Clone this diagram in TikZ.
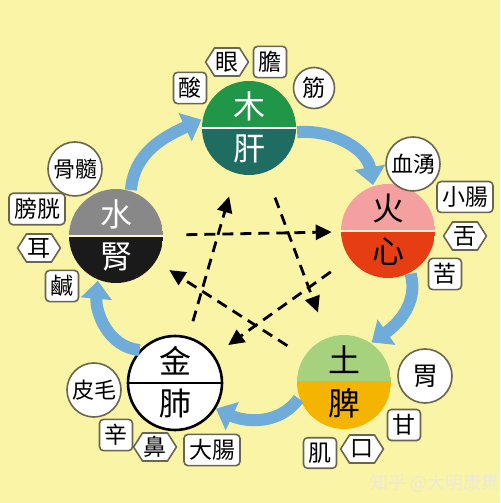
\documentclass[tikz,border=0pt]{standalone}
\usepackage{fontspec}
\setmainfont{Noto Sans CJK TC}
\usetikzlibrary{arrows.meta,shapes.symbols}
\definecolor{paper}{RGB}{250,244,166}
\definecolor{rim}{RGB}{105,102,80}
\definecolor{flow}{RGB}{112,172,218}
\definecolor{woodA}{RGB}{32,150,72}
\definecolor{woodB}{RGB}{30,108,98}
\definecolor{fireA}{RGB}{245,160,160}
\definecolor{fireB}{RGB}{230,62,18}
\definecolor{waterA}{RGB}{136,136,136}
\definecolor{waterB}{RGB}{26,26,26}
\definecolor{earthA}{RGB}{166,210,126}
\definecolor{earthB}{RGB}{245,180,0}
\definecolor{lightline}{RGB}{255,244,205}
\definecolor{markgray}{RGB}{236,233,214}
\begin{document}
\begin{tikzpicture}[x=0.5pt, y=0.5pt, line join=round]
	\tikzstyle{element}  = [circle, minimum size=47pt, inner sep=0pt]
	\tikzstyle{elemtext} = [inner sep=0pt, font=\fontsize{16}{16}\selectfont]
	\tikzstyle{boxA}     = [rectangle, rounded corners=2pt, draw=rim, fill=white, line width=0.8pt, inner sep=2.5pt, minimum height=14.5pt, minimum width=16pt, font=\fontsize{11.5}{11.5}\selectfont]
	\tikzstyle{boxB}     = [signal, signal to=west and east, signal pointer angle=115, draw=rim, fill=white, line width=0.8pt, inner xsep=0.5pt, inner ysep=1.5pt, minimum height=14pt, font=\fontsize{11.5}{11.5}\selectfont]
	\tikzstyle{boxC}     = [circle, draw=rim, fill=white, line width=0.8pt, inner sep=0pt, minimum size=27pt, font=\fontsize{11}{11}\selectfont]
	\tikzstyle{boxD}     = [boxC, minimum size=20.5pt, font=\fontsize{11.5}{11.5}\selectfont]
	\tikzstyle{boxE}     = [boxC, font=\fontsize{13}{13}\selectfont]
	\tikzstyle{ctrl}     = [-{Triangle[length=8pt,width=7.5pt]}, line width=1.4pt, dash pattern=on 5.5pt off 3.5pt]
	\tikzstyle{gen}      = [-{Triangle[length=9pt,width=15pt]}, line width=6pt, draw=flow]

	\path[fill=paper, use as bounding box] (0,0) rectangle (500,503);

%	\draw[step=50, gray!50] (0,0) grid (500,503);

	% the five phases
	\foreach \name/\x/\y/\colA/\colB/\colL/\colT/\colO/\elem/\organ in {wood/249/375/woodA/woodB/white/white/none/木/肝, fire/388/272/fireA/fireB/lightline/black/none/火/心, earth/344/121/earthA/earthB/earthB/black/none/土/脾, metal/175/120/white/white/black/black/black/金/肺, water/116/267/waterA/waterB/lightline/white/none/水/腎}
	{
		\node[element, draw=\colO, line width=1.3pt, path picture={
			\fill[\colA] (path picture bounding box.north west) rectangle (path picture bounding box.east);
			\fill[\colB] (path picture bounding box.west) rectangle (path picture bounding box.south east);
			\draw[\colL, line width=1.2pt] (path picture bounding box.west) -- (path picture bounding box.east);}] (\name) at (\x, \y) {};
		\node[elemtext, text=\colT] (\name-el) at ([yshift=11pt]\name.center) {\elem};
		\node[elemtext, text=\colT] (\name-org) at ([yshift=-10.5pt]\name.center) {\organ};
	}

	% what belongs to each phase
	\foreach \name/\x/\y/\styl/\txt in {sour/190/415/boxA/酸, eye/227/441/boxB/眼, gall/270/441/boxA/膽, sinew/314/415/boxD/筋,
		blood/413/339/boxC/血湧, smallint/465/306/boxA/小腸, tongue/465/267/boxB/舌, bitter/445/229/boxA/苦,
		marrow/75/334/boxC/骨髓, bladder/37/294/boxA/膀胱, ear/39/255/boxB/耳, salty/62/217/boxA/鹹,
		skin/94/113/boxC/皮毛, pungent/116/68/boxA/辛, nose/155/56/boxB/鼻, largeint/212/53/boxA/大腸,
		stomach/425/127/boxE/胃, sweet/404/78/boxA/甘, mouth/362/54/boxB/口, flesh/320/50/boxA/肌}
		\node[\styl] (\name) at (\x, \y) {\txt};

	% restraining cycle
	\foreach \from/\to/\a/\b in {water/fire/11pt/4pt, metal/wood/8pt/11.5pt, wood/earth/13pt/13pt, fire/metal/11pt/8.5pt, earth/water/9.5pt/7.5pt}
		\draw[ctrl, shorten <=\a, shorten >=\b] (\from) -- (\to);

	% generating cycle
	\foreach \from/\a/\to/\b/\o/\i in {wood/-5/fire/108/5/100, fire/-62/earth/55/-75/35, earth/200/metal/-32/235/-25, metal/137/water/-112/175/-95, water/72/wood/170/85/205}
		\draw[gen] (\from.\a) to[out=\o, in=\i] (\to.\b);

	\node[text=markgray, font=\fontsize{9}{9}\selectfont] (mark) at (435,20) {知乎 @大明康集};
\end{tikzpicture}
\end{document}
